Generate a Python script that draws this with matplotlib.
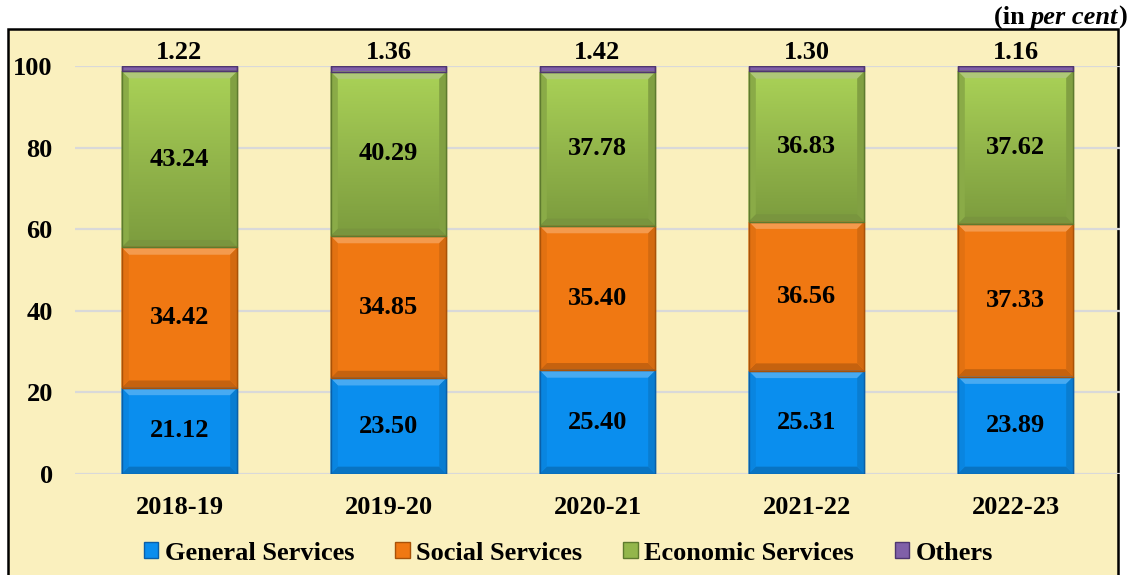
import numpy as np
import matplotlib.pyplot as plt
from matplotlib.patches import Rectangle, Polygon
from matplotlib.colors import LinearSegmentedColormap, to_rgb

# Data (per cent)
years = ['2018-19', '2019-20', '2020-21', '2021-22', '2022-23']
general = [21.12, 23.50, 25.40, 25.31, 23.89]
social = [34.42, 34.85, 35.40, 36.56, 37.33]
economic = [43.24, 40.29, 37.78, 36.83, 37.62]
others = [1.22, 1.36, 1.42, 1.30, 1.16]

series = [
    ('General Services', general, '#0A8EEE', '#0A5FA8'),
    ('Social Services', social, '#F07812', '#A85208'),
    ('Economic Services', economic, '#93B64B', '#5E7A2E'),
    ('Others', others, '#8060A8', '#4E3670'),
]


def shade(c, f):
    r = np.array(to_rgb(c))
    if f > 0:
        return tuple(r + (1 - r) * f)
    return tuple(r * (1 + f))


plt.rcParams['font.family'] = ['Liberation Serif', 'DejaVu Serif']
plt.rcParams['font.weight'] = 'bold'

bg = '#FAF0BE'
fig = plt.figure(figsize=(11.37, 5.75), dpi=100)
fig.patch.set_facecolor('white')

# chart area box
fig.patches.append(Rectangle((8 / 1137, -0.01), 1110 / 1137, 1 - 29 / 575 + 0.01,
                             transform=fig.transFigure, facecolor=bg,
                             edgecolor='black', linewidth=1.8, zorder=-5))

ax = fig.add_axes([75 / 1137, 1 - 474 / 575, 1045 / 1137, 408 / 575])
ax.set_facecolor('none')
ax.set_xlim(-0.5, len(years) - 0.5)
ax.set_ylim(0, 100)

x = np.arange(len(years))
w = 0.555
dx, dy = 0.035, 1.8  # bevel size in data units
bottom = np.zeros(len(years))
handles = []
green_cmap = LinearSegmentedColormap.from_list('g', ['#7C9C3E', '#93B64B', '#AAD257'])
for name, vals, col, edge in series:
    vals = np.array(vals)
    b = ax.bar(x, vals, w, bottom=bottom, color=col, edgecolor=edge,
               linewidth=1.0, zorder=3, label=name)
    handles.append(b)
    for rect in b:
        x0, y0 = rect.get_x(), rect.get_y()
        x1, y1 = x0 + rect.get_width(), y0 + rect.get_height()
        if name == 'Economic Services':
            grad = np.linspace(0, 1, 100).reshape(-1, 1)
            im = ax.imshow(grad, extent=(x0, x1, y0, y1), origin='lower',
                           cmap=green_cmap, aspect='auto', zorder=3.1)
            im.set_clip_path(rect)
        if rect.get_height() > 4:
            top = Polygon([(x0, y1), (x1, y1), (x1 - dx, y1 - dy), (x0 + dx, y1 - dy)],
                          closed=True, facecolor=shade(col, 0.25), edgecolor='none', zorder=3.2)
            bot = Polygon([(x0, y0), (x1, y0), (x1 - dx, y0 + dy), (x0 + dx, y0 + dy)],
                          closed=True, facecolor=shade(col, -0.18), edgecolor='none', zorder=3.2)
            lft = Polygon([(x0, y0), (x0, y1), (x0 + dx, y1 - dy), (x0 + dx, y0 + dy)],
                          closed=True, facecolor=shade(col, -0.06), edgecolor='none', zorder=3.2)
            rgt = Polygon([(x1, y0), (x1, y1), (x1 - dx, y1 - dy), (x1 - dx, y0 + dy)],
                          closed=True, facecolor=shade(col, -0.12), edgecolor='none', zorder=3.2)
            for p in (top, bot, lft, rgt):
                ax.add_patch(p)
        ax.add_patch(Rectangle((x0, y0), x1 - x0, y1 - y0, facecolor='none',
                               edgecolor=edge, linewidth=1.0, zorder=3.3))
    if name != 'Others':
        for xi, v, b0 in zip(x, vals, bottom):
            ax.text(xi, b0 + v / 2, f'{v:.2f}', ha='center', va='center',
                    fontsize=19, fontweight='bold', zorder=5)
    else:
        for xi, v, b0 in zip(x, vals, bottom):
            ax.text(xi, b0 + v + 0.6, f'{v:.2f}', ha='center', va='bottom',
                    fontsize=19, fontweight='bold', zorder=5)
    bottom = bottom + vals

ax.set_yticks(range(0, 101, 20))
ax.set_xticks(x)
ax.set_xticklabels(years)
ax.tick_params(axis='both', length=0, labelsize=19)
ax.tick_params(axis='x', pad=16)
ax.tick_params(axis='y', pad=16)
for lbl in ax.get_xticklabels() + ax.get_yticklabels():
    lbl.set_fontweight('bold')
ax.yaxis.grid(True, color='#D9D9D9', linewidth=1.6, zorder=0)
ax.set_axisbelow(True)
for s in ax.spines.values():
    s.set_visible(False)

leg = fig.legend(handles=handles, loc='center', bbox_to_anchor=(0.5, 1 - 553 / 575),
                 ncol=4, frameon=False, handlelength=0.55,
                 handleheight=0.55, handletextpad=0.25, columnspacing=1.55,
                 prop={'weight': 'bold', 'size': 19})

# unit note, right aligned, with italic part
t1 = fig.text(1127 / 1137, 1 - 17 / 575, ')', ha='right', va='center',
              fontsize=19, fontweight='bold')
t2 = plt.annotate('per cent', xy=(0, 0), xycoords=t1, ha='right', va='bottom',
                  fontsize=19, fontweight='bold', style='italic')
t3 = plt.annotate('(in ', xy=(0, 0), xycoords=t2, ha='right', va='bottom',
                  fontsize=19, fontweight='bold')

fig.savefig('out.png', dpi=100, facecolor='white')
